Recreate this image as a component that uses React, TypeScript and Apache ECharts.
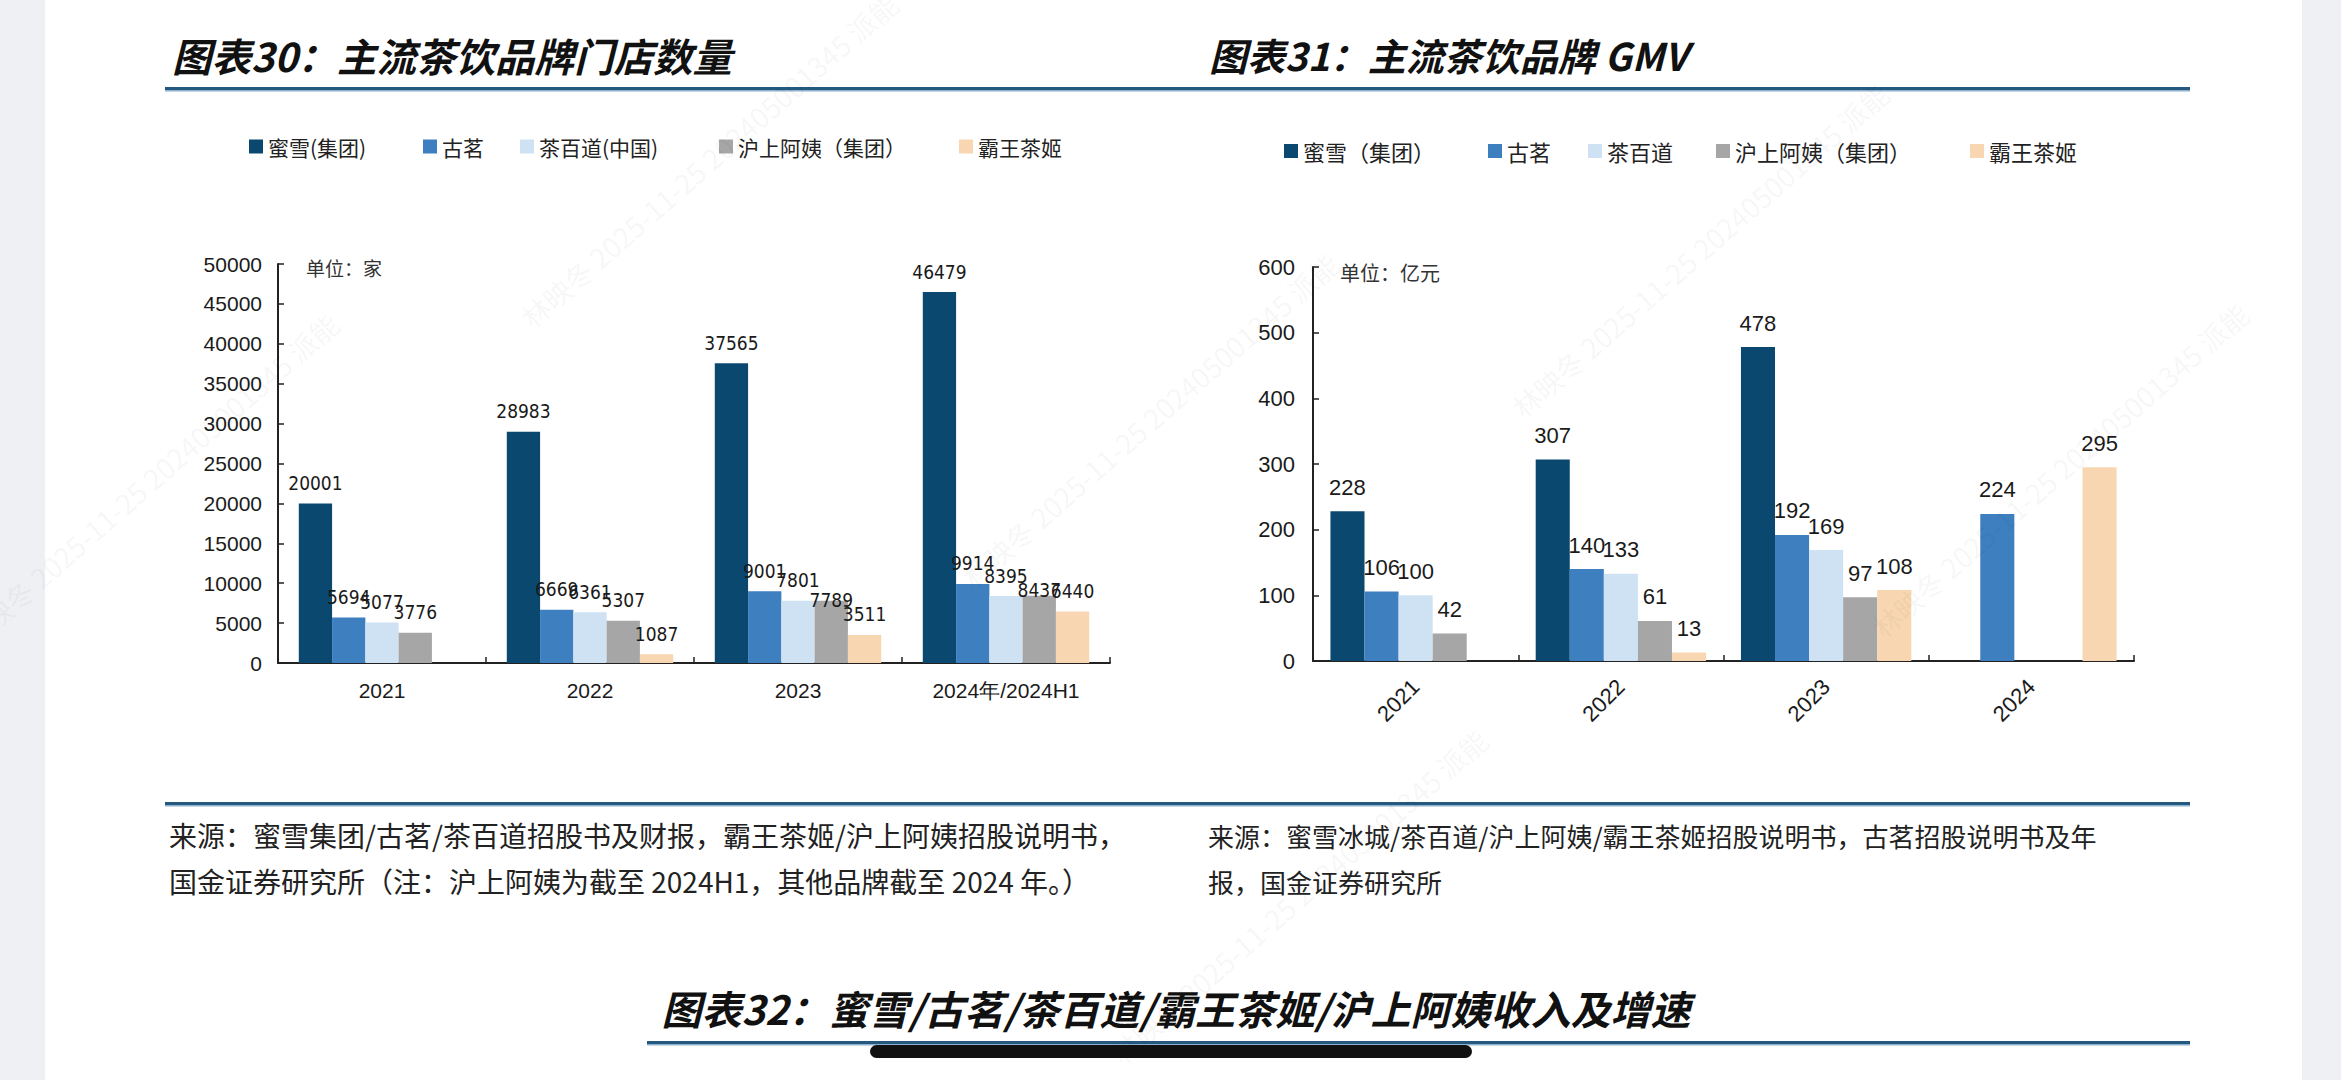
import React, { useEffect, useRef } from "react";
import * as echarts from "echarts";

// ---------- data ----------
const storeCategories = ["2021", "2022", "2023", "2024年/2024H1"];
const gmvCategories = ["2021", "2022", "2023", "2024"];

const storeNames = ["蜜雪(集团)", "古茗", "茶百道(中国)", "沪上阿姨（集团）", "霸王茶姬"];
const gmvNames = ["蜜雪（集团）", "古茗", "茶百道", "沪上阿姨（集团）", "霸王茶姬"];

const storeMixue = [20001, 28983, 37565, 46479];
const storeGuming = [5694, 6669, 9001, 9914];
const storeChabaidao = [5077, 6361, 7801, 8395];
const storeHushang = [3776, 5307, 7789, 8437];
const storeBawang = [null, 1087, 3511, 6440];

const gmvMixue = [228, 307, 478, null];
const gmvGuming = [106, 140, 192, 224];
const gmvChabaidao = [100, 133, 169, null];
const gmvHushang = [42, 61, 97, null];
const gmvBawang = [null, 13, 108, 295];

const storeAxis = { min: 0, max: 50000, interval: 5000 };
const gmvAxis = { min: 0, max: 600, interval: 100 };

// ---------- styles ----------
const colors = ["#0b4870", "#3e7fc0", "#cfe2f3", "#a6a6a6", "#f8d6b1"];
const CJK = '"Noto Sans CJK SC", "Noto Sans", sans-serif';
const NUM = '"Liberation Sans", Arial, sans-serif';
const NARROW = '"Liberation Sans Narrow", "DejaVu Sans Condensed", "Liberation Sans", sans-serif';

// label nudges (series index, category index) -> vertical offset
const storeLabelNudge: Record<string, number> = { "3-2": 20, "3-3": 15 };

const storeLegendX = [249, 423, 520, 719, 959];
const gmvLegendX = [1284, 1488, 1588, 1716, 1970];

function App() {
  const ref = useRef<HTMLDivElement>(null);

  useEffect(() => {
    document.body.style.margin = "0";
    const chart = echarts.init(ref.current!, null, { renderer: "svg" });

    const storeSeriesData = [storeMixue, storeGuming, storeChabaidao, storeHushang, storeBawang];
    const gmvSeriesData = [gmvMixue, gmvGuming, gmvChabaidao, gmvHushang, gmvBawang];

    const storeSeries = storeSeriesData.map((arr, si) => ({
      name: storeNames[si],
      type: "bar",
      xAxisIndex: 0,
      yAxisIndex: 0,
      barGap: "0%",
      barCategoryGap: "20%",
      itemStyle: { color: colors[si] },
      label: {
        show: true,
        position: "top",
        distance: 11,
        fontSize: 19,
        fontFamily: NARROW,
        color: "#1a1a1a",
      },
      data: arr.map((v, ci) => {
        const nudge = storeLabelNudge[`${si}-${ci}`];
        return nudge ? { value: v, label: { offset: [0, nudge] } } : v;
      }),
    }));

    const gmvSeries = gmvSeriesData.map((arr, si) => ({
      name: gmvNames[si],
      type: "bar",
      xAxisIndex: 1,
      yAxisIndex: 1,
      barGap: "0%",
      barCategoryGap: "17%",
      itemStyle: { color: colors[si] },
      label: {
        show: true,
        position: "top",
        distance: 13,
        fontSize: 22,
        fontFamily: NUM,
        color: "#1a1a1a",
      },
      data: arr,
    }));

    const legendBase = (name: string, left: number, top: number, fontSize: number) => ({
      data: [name],
      left,
      top,
      padding: 0,
      icon: "rect",
      itemWidth: 14,
      itemHeight: 14,
      selectedMode: false,
      textStyle: { fontFamily: CJK, fontSize, color: "#222" },
    });

    const legends = [
      ...storeNames.map((n, i) => legendBase(n, storeLegendX[i], 136, 21)),
      ...gmvNames.map((n, i) => legendBase(n, gmvLegendX[i], 140, 22)),
    ];

    const axisLine = { show: true, lineStyle: { color: "#222", width: 2 } };
    const axisTick = { show: true, inside: true, length: 6, lineStyle: { color: "#222", width: 1.5 } };

    const wm = "林映冬 2025-11-25 202405001345 派能";
    const watermarkPos = [
      [709, 160],
      [150, 480],
      [1150, 420],
      [2060, 470],
      [1299, 896],
      [1700, 250],
    ];

    const graphics: any[] = [
      { type: "rect", shape: { x: 0, y: 0, width: 45, height: 1080 }, style: { fill: "#eef0f3" }, z: 0 },
      { type: "rect", shape: { x: 2302, y: 0, width: 39, height: 1080 }, style: { fill: "#eef0f3" }, z: 0 },
      // titles
      {
        type: "text", x: 172, y: 54,
        style: { text: "图表30：主流茶饮品牌门店数量", fontFamily: CJK, fontSize: 39.5, fontWeight: "bold", fontStyle: "italic", fill: "#111", verticalAlign: "middle" },
      },
      {
        type: "text", x: 1209, y: 54,
        style: { text: "图表31：主流茶饮品牌 GMV", fontFamily: CJK, fontSize: 38, fontWeight: "bold", fontStyle: "italic", fill: "#111", verticalAlign: "middle" },
      },
      // top rule
      { type: "rect", shape: { x: 165, y: 87, width: 2025, height: 3 }, style: { fill: "#24587f" } },
      { type: "rect", shape: { x: 165, y: 90, width: 2025, height: 1.5 }, style: { fill: "#8db1ce" } },
      // unit labels
      { type: "text", x: 306, y: 267, style: { text: "单位：家", fontFamily: CJK, fontSize: 19, fill: "#333", verticalAlign: "middle" } },
      { type: "text", x: 1340, y: 272, style: { text: "单位：亿元", fontFamily: CJK, fontSize: 20, fill: "#333", verticalAlign: "middle" } },
      // footnote rule
      { type: "rect", shape: { x: 165, y: 802, width: 2025, height: 3 }, style: { fill: "#24587f" } },
      { type: "rect", shape: { x: 165, y: 805, width: 2025, height: 1.5 }, style: { fill: "#8db1ce" } },
      // footnotes
      { type: "text", x: 169, y: 835, style: { text: "来源：蜜雪集团/古茗/茶百道招股书及财报，霸王茶姬/沪上阿姨招股说明书，", fontFamily: CJK, fontSize: 28, fill: "#222", verticalAlign: "middle" } },
      { type: "text", x: 169, y: 881, style: { text: "国金证券研究所（注：沪上阿姨为截至 2024H1，其他品牌截至 2024 年。）", fontFamily: CJK, fontSize: 28, fill: "#222", verticalAlign: "middle" } },
      { type: "text", x: 1208, y: 835, style: { text: "来源：蜜雪冰城/茶百道/沪上阿姨/霸王茶姬招股说明书，古茗招股说明书及年", fontFamily: CJK, fontSize: 26, fill: "#222", verticalAlign: "middle" } },
      { type: "text", x: 1208, y: 881, style: { text: "报，国金证券研究所", fontFamily: CJK, fontSize: 26, fill: "#222", verticalAlign: "middle" } },
      // bottom title
      {
        type: "text", x: 1176, y: 1008,
        style: { text: "图表32：蜜雪/古茗/茶百道/霸王茶姬/沪上阿姨收入及增速", fontFamily: CJK, fontSize: 40, fontWeight: "bold", fontStyle: "italic", fill: "#111", align: "center", verticalAlign: "middle" },
      },
      { type: "rect", shape: { x: 647, y: 1041, width: 1543, height: 3 }, style: { fill: "#24587f" } },
      { type: "rect", shape: { x: 647, y: 1044, width: 1543, height: 1.5 }, style: { fill: "#8db1ce" } },
      // home indicator
      { type: "rect", shape: { x: 870, y: 1045, width: 602, height: 13, r: 6.5 }, style: { fill: "#111" }, z: 120 },
      // watermarks
      ...watermarkPos.map(([x, y]) => ({
        type: "text",
        x,
        y,
        rotation: 0.72,
        z: 110,
        silent: true,
        style: { text: wm, fontFamily: CJK, fontSize: 28, fill: "rgba(0,0,0,0.05)", align: "center", verticalAlign: "middle" },
      })),
    ];

    chart.setOption({
      animation: false,
      backgroundColor: "#ffffff",
      legend: legends,
      grid: [
        { left: 278, top: 264, width: 832, height: 399 },
        { left: 1313, top: 267, width: 821, height: 394 },
      ],
      xAxis: [
        {
          type: "category",
          gridIndex: 0,
          data: storeCategories,
          axisLine,
          axisTick,
          axisLabel: { fontFamily: NUM, fontSize: 21, color: "#1a1a1a", margin: 17 },
        },
        {
          type: "category",
          gridIndex: 1,
          data: gmvCategories,
          axisLine,
          axisTick,
          axisLabel: { fontFamily: NUM, fontSize: 22, color: "#1a1a1a", margin: 22, rotate: 45 },
        },
      ],
      yAxis: [
        {
          type: "value",
          gridIndex: 0,
          ...storeAxis,
          axisLine,
          axisTick,
          splitLine: { show: false },
          axisLabel: { fontFamily: NUM, fontSize: 21, color: "#1a1a1a", margin: 16, formatter: (v: number) => String(v) },
        },
        {
          type: "value",
          gridIndex: 1,
          ...gmvAxis,
          axisLine,
          axisTick,
          splitLine: { show: false },
          axisLabel: { fontFamily: NUM, fontSize: 22, color: "#1a1a1a", margin: 18, formatter: (v: number) => String(v) },
        },
      ],
      series: [...storeSeries, ...gmvSeries],
      graphic: graphics,
    });

    return () => chart.dispose();
  }, []);

  return (
    <div
      ref={ref}
      style={{ position: "absolute", left: 0, top: 0, width: 2341, height: 1080, background: "#fff" }}
    />
  );
}

export default App;
